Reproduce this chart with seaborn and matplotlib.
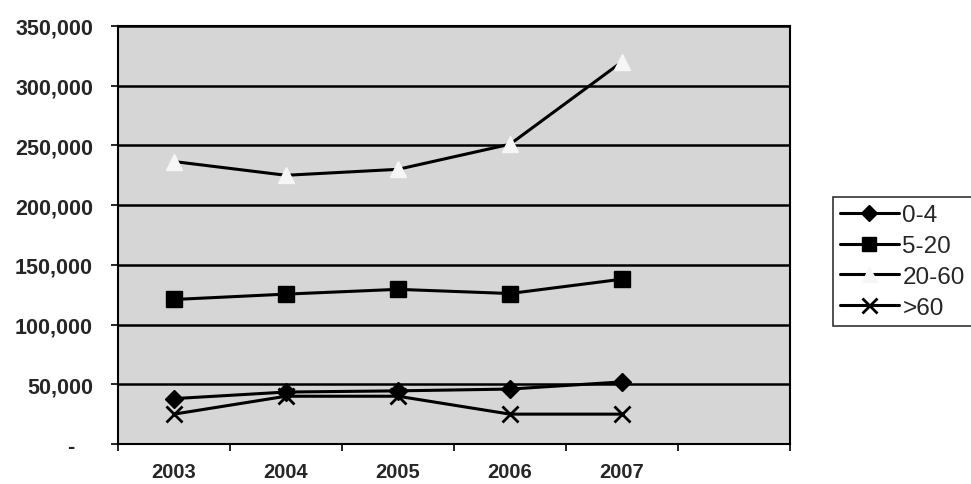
import numpy as np
import pandas as pd
import matplotlib
matplotlib.use("Agg")
import matplotlib.pyplot as plt
import seaborn as sns
from matplotlib.ticker import FuncFormatter, FixedLocator

years = ["2003", "2004", "2005", "2006", "2007"]
age_0_4 = [38000, 43500, 44500, 46000, 52000]
age_5_20 = [121000, 125500, 129500, 126000, 138000]
age_20_60 = [236500, 225000, 230000, 251000, 320000]
age_60_plus = [25000, 40000, 40000, 25000, 25000]
series_names = ["0-4", "5-20", "20-60", ">60"]
y_ticks = [0, 50000, 100000, 150000, 200000, 250000, 300000, 350000]

frames = []
for name, vals in zip(series_names, [age_0_4, age_5_20, age_20_60, age_60_plus]):
    frames.append(pd.DataFrame({"pos": np.arange(len(years)), "year": years,
                                "value": vals, "group": name}))
df = pd.concat(frames, ignore_index=True)

sns.set_theme(style="white")
plt.rcParams["font.family"] = ["Liberation Sans", "DejaVu Sans"]

fig = plt.figure(figsize=(9.71, 4.85), dpi=100)
ax = fig.add_axes([118 / 971, 40 / 485, 672 / 971, 418 / 485])
ax.set_facecolor("#d6d6d6")

styles = {
    "0-4": dict(marker="D", markersize=9, mfc="black", mec="black"),
    "5-20": dict(marker="s", markersize=11, mfc="black", mec="black"),
    "20-60": dict(marker="^", markersize=12, mfc="#f6f6f6", mec="#f6f6f6"),
    ">60": dict(marker="x", markersize=12, mfc="black", mec="black", mew=2),
}
for name in series_names:
    sub = df[df["group"] == name]
    st = styles[name]
    sns.lineplot(data=sub, x="pos", y="value", ax=ax, color="black", lw=2.2,
                 marker=st["marker"], markersize=st["markersize"],
                 markerfacecolor=st["mfc"], markeredgecolor=st["mec"],
                 markeredgewidth=st.get("mew", 1), label=name, zorder=3)

ax.set_xlim(-0.5, 5.5)
ax.set_ylim(0, 350000)
ax.yaxis.set_major_locator(FixedLocator(y_ticks))
ax.yaxis.set_major_formatter(FuncFormatter(lambda v, p: "-   " if v == 0 else f"{int(v):,}"))
ax.set_xticks(np.arange(len(years)))
ax.set_xticklabels(years)
ax.set_xticks(np.arange(-0.5, 6.0, 1.0), minor=True)
ax.grid(axis="y", color="black", lw=1.8, zorder=1)
ax.grid(axis="x", visible=False)
ax.set_axisbelow(True)
ax.set_xlabel("")
ax.set_ylabel("")

ax.tick_params(axis="x", which="major", length=0, pad=13, labelsize=14.5)
ax.tick_params(axis="x", which="minor", length=5, width=1.2, color="black", direction="out", bottom=True)
ax.tick_params(axis="y", length=5, width=1.2, color="black", direction="out", left=True, pad=13, labelsize=15.5)
for lab in ax.get_xticklabels() + ax.get_yticklabels():
    lab.set_fontweight("bold")

for sp in ax.spines.values():
    sp.set_visible(True)
    sp.set_color("black")
    sp.set_linewidth(1.5)

leg = ax.legend(loc="upper left", bbox_to_anchor=(833 / 971, 1 - 198 / 485),
                bbox_transform=fig.transFigure, frameon=True, fancybox=False,
                edgecolor="black", fontsize=17.5, handlelength=2.4, handletextpad=0.15,
                borderpad=0.3, labelspacing=0.36, borderaxespad=0, markerscale=0.9)
leg.get_frame().set_linewidth(1.2)

fig.savefig("out.png", dpi=100, facecolor="white")
